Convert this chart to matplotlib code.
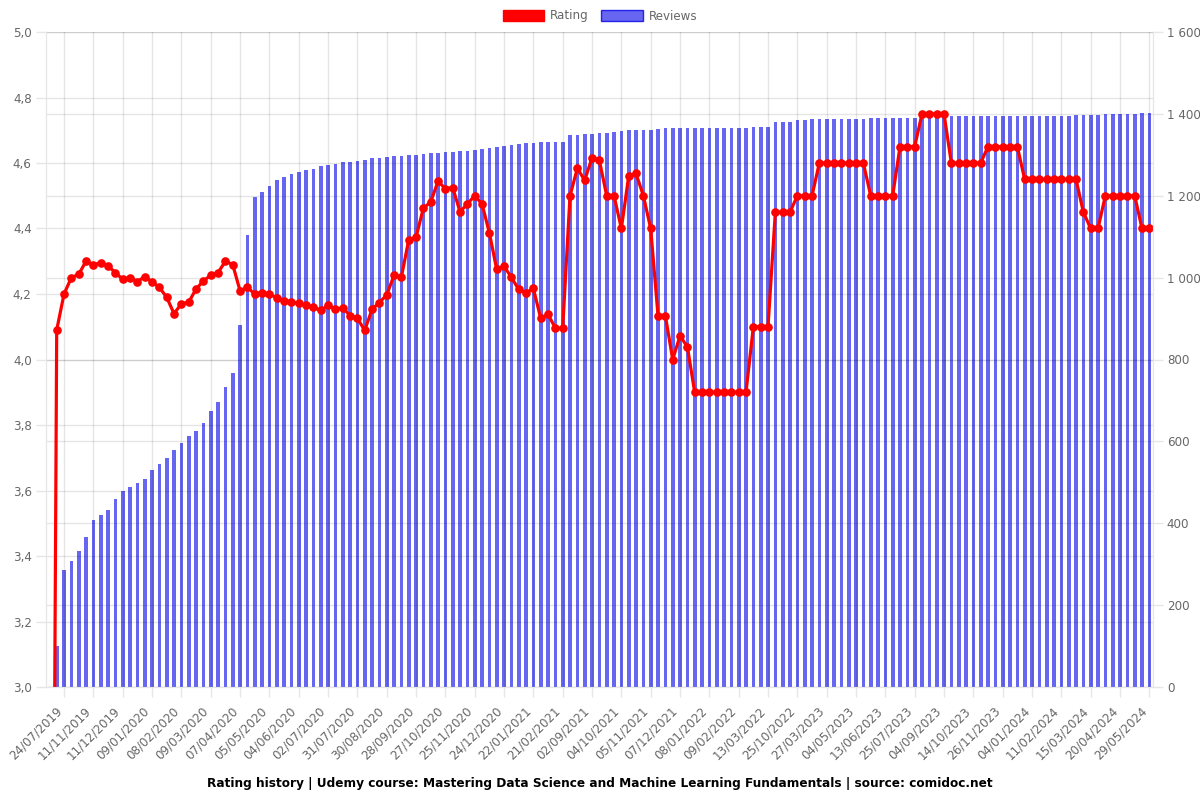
import numpy as np
import matplotlib
matplotlib.use("Agg")
import matplotlib.pyplot as plt
import matplotlib.transforms as mtransforms
from matplotlib.patches import Patch
from matplotlib.ticker import FuncFormatter, MultipleLocator

# ---------- DATA ----------
rating = [
    0.0, 4.09, 4.20, 4.25, 4.26, 4.30, 4.29, 4.295, 4.286, 4.265,
    4.245, 4.25, 4.238, 4.253, 4.237, 4.22, 4.19, 4.14, 4.17, 4.175,
    4.215, 4.24, 4.257, 4.265, 4.30, 4.29, 4.21, 4.22, 4.20, 4.204,
    4.20, 4.189, 4.18, 4.176, 4.171, 4.165, 4.16, 4.15, 4.165, 4.153,
    4.158, 4.134, 4.126, 4.089, 4.153, 4.174, 4.197, 4.257, 4.251, 4.365,
    4.373, 4.462, 4.481, 4.544, 4.522, 4.525, 4.451, 4.475, 4.50, 4.475,
    4.387, 4.275, 4.285, 4.251, 4.214, 4.204, 4.217, 4.126, 4.138, 4.096,
    4.095, 4.50, 4.584, 4.547, 4.616, 4.608, 4.50, 4.50, 4.40, 4.56,
    4.568, 4.50, 4.40, 4.134, 4.134, 4.00, 4.072, 4.039, 3.90, 3.90,
    3.90, 3.90, 3.90, 3.90, 3.90, 3.90, 4.10, 4.10, 4.10, 4.45,
    4.45, 4.45, 4.50, 4.50, 4.50, 4.60, 4.60, 4.60, 4.60, 4.60,
    4.60, 4.60, 4.50, 4.50, 4.50, 4.50, 4.65, 4.65, 4.65, 4.75,
    4.75, 4.75, 4.75, 4.60, 4.60, 4.60, 4.60, 4.60, 4.65, 4.65,
    4.65, 4.65, 4.65, 4.55, 4.55, 4.55, 4.55, 4.55, 4.55, 4.55,
    4.55, 4.45, 4.40, 4.40, 4.50, 4.50, 4.50, 4.50, 4.50, 4.40,
    4.40,
]

reviews = [
    0, 101, 286, 309, 331, 366, 409, 420, 432, 459,
    480, 489, 499, 508, 530, 545, 559, 580, 596, 613,
    625, 646, 673, 695, 732, 766, 885, 1103, 1198, 1208,
    1224, 1238, 1245, 1253, 1258, 1262, 1265, 1272, 1274, 1278,
    1282, 1283, 1285, 1288, 1291, 1293, 1295, 1296, 1297, 1299,
    1300, 1302, 1304, 1305, 1306, 1307, 1309, 1310, 1312, 1314,
    1317, 1318, 1322, 1325, 1327, 1328, 1329, 1331, 1331, 1332,
    1332, 1349, 1349, 1351, 1352, 1353, 1353, 1356, 1357, 1360,
    1360, 1361, 1361, 1364, 1365, 1365, 1365, 1365, 1365, 1365,
    1365, 1365, 1365, 1365, 1365, 1365, 1367, 1368, 1368, 1379,
    1380, 1380, 1386, 1386, 1387, 1387, 1387, 1387, 1388, 1388,
    1388, 1388, 1389, 1389, 1389, 1389, 1390, 1390, 1391, 1392,
    1392, 1393, 1393, 1394, 1394, 1394, 1394, 1394, 1395, 1395,
    1395, 1395, 1395, 1395, 1396, 1396, 1396, 1396, 1396, 1396,
    1397, 1397, 1398, 1398, 1399, 1399, 1400, 1400, 1400, 1401,
    1401,
]

tick_labels = [
    "24/07/2019", "11/11/2019", "11/12/2019", "09/01/2020", "08/02/2020",
    "09/03/2020", "07/04/2020", "05/05/2020", "04/06/2020", "02/07/2020",
    "31/07/2020", "30/08/2020", "28/09/2020", "27/10/2020", "25/11/2020",
    "24/12/2020", "22/01/2021", "21/02/2021", "02/09/2021", "04/10/2021",
    "05/11/2021", "07/12/2021", "08/01/2022", "09/02/2022", "13/03/2022",
    "25/10/2022", "27/03/2023", "04/05/2023", "13/06/2023", "25/07/2023",
    "04/09/2023", "14/10/2023", "26/11/2023", "04/01/2024", "11/02/2024",
    "15/03/2024", "20/04/2024", "29/05/2024",
]

TITLE = ("Rating history | Udemy course: Mastering Data Science and Machine "
         "Learning Fundamentals | source: comidoc.net")

# ---------- STYLE ----------
LINE_RED = "#ff0000"
BAR_BLUE = (0.0, 0.0, 0.9, 0.6)
GRID = "#000000"
GRID_ALPHA = 0.1
TICK_C = "#e6e6e6"
TXT = "#666666"
FS = 8.6

plt.rcParams["font.family"] = ["DejaVu Sans"]

x = np.arange(len(rating))
tick_pos = x[2::4][:len(tick_labels)]

fig = plt.figure(figsize=(12, 8), dpi=100)
ax = fig.add_axes([45.7 / 1200, 113 / 800, (1153 - 45.7) / 1200, 655 / 800])
ax2 = ax.twinx()

# bars (reviews) on right axis, drawn below the rating line
ax2.bar(x, reviews, width=0.5, color=BAR_BLUE, linewidth=0)
ax2.set_ylim(0, 1600)
ax2.yaxis.set_major_locator(MultipleLocator(200))
ax2.yaxis.set_major_formatter(FuncFormatter(lambda v, p: f"{int(v):,}".replace(",", " ")))
ax2.grid(axis="y", color=GRID, alpha=GRID_ALPHA, lw=1)
ax2.set_axisbelow(True)

ax.set_zorder(ax2.get_zorder() + 1)
ax.patch.set_visible(False)
ax.grid(axis="both", color=GRID, alpha=GRID_ALPHA, lw=1)
ax.set_axisbelow(True)
ax.plot(x, rating, color=LINE_RED, lw=2.3, marker="o", ms=5.2, mec=LINE_RED, mfc=LINE_RED)
ax.set_ylim(3.0, 5.0)
ax.set_xlim(-0.5, len(rating) - 0.5)
ax.yaxis.set_major_locator(MultipleLocator(0.2))
ax.yaxis.set_major_formatter(FuncFormatter(lambda v, p: f"{v:.1f}".replace(".", ",")))
ax.set_xticks(tick_pos)
ax.set_xticklabels(tick_labels, rotation=45, ha="right", rotation_mode="anchor")

for a in (ax, ax2):
    for s in a.spines.values():
        s.set_color(TICK_C)
    a.spines["top"].set_visible(False)
    a.tick_params(colors=TICK_C, labelcolor=TXT, labelsize=FS, length=7, width=1)

ax.tick_params(axis="x", pad=4)
ax.tick_params(axis="y", pad=3)
ax2.tick_params(axis="y", pad=3)

# nudge rotated date labels so their ends sit left of the tick, like the original
shift = mtransforms.ScaledTranslation(-9 / 100, -2 / 100, fig.dpi_scale_trans)
for lbl in ax.get_xticklabels():
    lbl.set_transform(lbl.get_transform() + shift)

handles = [
    Patch(facecolor=LINE_RED, edgecolor=LINE_RED, label="Rating"),
    Patch(facecolor=BAR_BLUE, edgecolor=(0, 0, 0.9, 0.8), label="Reviews"),
]
fig.legend(handles=handles, loc="center", bbox_to_anchor=(0.5, 1 - 16 / 800),
           ncol=2, frameon=False, fontsize=FS, handlelength=3.5, handleheight=1.1,
           columnspacing=1.0, handletextpad=0.5, labelcolor=TXT)

fig.text(0.5, 1 - 783 / 800, TITLE, ha="center", va="center",
         fontsize=8.7, fontweight="bold", color="#000000")

fig.savefig("out.png", dpi=100)
